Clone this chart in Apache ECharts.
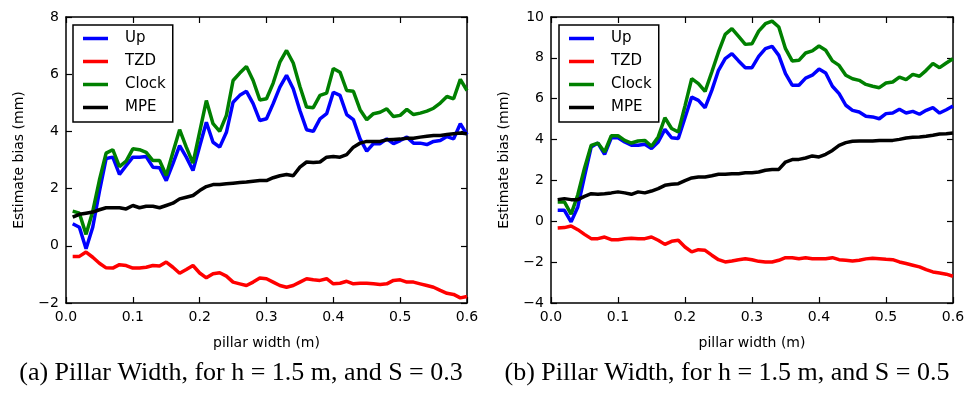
<!DOCTYPE html>
<html>
<head>
<meta charset="utf-8">
<script src="https://cdn.jsdelivr.net/npm/echarts@6/dist/echarts.min.js"></script>
<style>
  html, body { margin: 0; padding: 0; background: #fff; }
  #chart { width: 970px; height: 400px; }
</style>
</head>
<body>
<div id="chart"></div>
<script>
// ---- data ----
const widths = [0.01,0.02,0.03,0.04,0.05,0.06,0.07,0.08,0.09,0.10,
  0.11,0.12,0.13,0.14,0.15,0.16,0.17,0.18,0.19,0.20,
  0.21,0.22,0.23,0.24,0.25,0.26,0.27,0.28,0.29,0.30,
  0.31,0.32,0.33,0.34,0.35,0.36,0.37,0.38,0.39,0.40,
  0.41,0.42,0.43,0.44,0.45,0.46,0.47,0.48,0.49,0.50,
  0.51,0.52,0.53,0.54,0.55,0.56,0.57,0.58,0.59,0.60];

const seriesNames = ['Up', 'TZD', 'Clock', 'MPE'];

// Panel (a): S = 0.3
const upA = [0.77,0.65,-0.1,0.65,1.9,3.05,3.1,2.5,2.8,3.1,3.1,3.12,2.75,2.73,2.28,2.87,3.5,3.1,2.63,3.48,
  4.32,3.62,3.45,3.97,5.02,5.26,5.4,4.97,4.38,4.44,4.97,5.55,5.96,5.49,4.73,4.06,4.0,4.44,4.62,5.37,
  5.26,4.59,4.41,3.74,3.31,3.57,3.57,3.74,3.57,3.68,3.8,3.59,3.59,3.54,3.65,3.68,3.82,3.74,4.27,3.89];
const tzdA = [-0.37,-0.37,-0.22,-0.4,-0.61,-0.77,-0.78,-0.66,-0.69,-0.78,-0.78,-0.75,-0.69,-0.71,-0.57,-0.75,-0.96,-0.83,-0.69,-0.95,
  -1.12,-0.98,-0.94,-1.06,-1.27,-1.33,-1.39,-1.27,-1.13,-1.15,-1.27,-1.39,-1.45,-1.39,-1.27,-1.15,-1.19,-1.21,-1.15,-1.33,
  -1.31,-1.24,-1.33,-1.31,-1.31,-1.33,-1.35,-1.33,-1.21,-1.19,-1.27,-1.27,-1.33,-1.39,-1.45,-1.56,-1.66,-1.7,-1.82,-1.77];
const clockA = [1.21,1.14,0.4,1.2,2.3,3.24,3.36,2.77,2.96,3.39,3.36,3.27,2.98,2.98,2.46,3.27,4.06,3.45,2.89,3.98,
  5.08,4.27,4.0,4.56,5.78,6.04,6.27,5.78,5.1,5.14,5.69,6.42,6.83,6.39,5.57,4.85,4.83,5.26,5.34,6.2,
  6.07,5.43,5.4,4.76,4.41,4.62,4.67,4.79,4.52,4.56,4.77,4.59,4.64,4.71,4.81,4.99,5.22,5.14,5.82,5.43];
const mpeA = [1.0,1.1,1.14,1.18,1.26,1.33,1.33,1.33,1.29,1.41,1.33,1.38,1.38,1.33,1.41,1.49,1.64,1.7,1.76,1.93,
  2.07,2.14,2.14,2.17,2.19,2.21,2.23,2.26,2.28,2.28,2.38,2.45,2.49,2.45,2.75,2.93,2.91,2.93,3.1,3.12,
  3.1,3.19,3.45,3.59,3.65,3.65,3.65,3.71,3.72,3.73,3.76,3.76,3.8,3.83,3.86,3.86,3.89,3.92,3.94,3.92];

// Panel (b): S = 0.5
const upB = [0.54,0.54,-0.03,0.7,2.2,3.64,3.83,3.28,4.09,4.09,3.88,3.72,3.72,3.77,3.56,3.88,4.5,4.09,4.05,5.07,
  6.08,5.92,5.56,6.41,7.39,7.96,8.21,7.85,7.52,7.52,8.07,8.45,8.56,8.12,7.23,6.66,6.66,7.01,7.15,7.45,
  7.26,6.61,6.25,5.68,5.43,5.35,5.14,5.11,5.02,5.27,5.3,5.48,5.3,5.38,5.24,5.43,5.56,5.3,5.46,5.64];
const tzdB = [-0.33,-0.31,-0.23,-0.41,-0.64,-0.85,-0.85,-0.77,-0.9,-0.9,-0.86,-0.83,-0.86,-0.85,-0.77,-0.93,-1.13,-0.98,-0.93,-1.26,
  -1.5,-1.39,-1.42,-1.66,-1.88,-1.99,-1.94,-1.88,-1.83,-1.88,-1.96,-1.99,-1.99,-1.91,-1.78,-1.78,-1.83,-1.79,-1.83,-1.83,
  -1.83,-1.78,-1.88,-1.91,-1.94,-1.91,-1.84,-1.81,-1.83,-1.86,-1.88,-1.99,-2.07,-2.15,-2.23,-2.37,-2.48,-2.53,-2.59,-2.69];
const clockB = [0.95,0.95,0.35,1.3,2.6,3.72,3.83,3.39,4.19,4.19,3.96,3.83,3.93,3.96,3.67,4.13,5.07,4.54,4.37,5.65,
  6.98,6.74,6.36,7.31,8.29,9.15,9.43,9.05,8.66,8.69,9.31,9.67,9.8,9.51,8.45,7.85,7.88,8.24,8.34,8.58,
  8.37,7.85,7.63,7.15,6.98,6.9,6.7,6.61,6.54,6.77,6.82,7.06,6.93,7.19,7.1,7.39,7.72,7.52,7.75,7.96];
const mpeB = [1.06,1.11,1.06,1.06,1.22,1.35,1.32,1.35,1.39,1.44,1.39,1.32,1.44,1.39,1.48,1.6,1.76,1.81,1.84,1.99,
  2.12,2.17,2.17,2.23,2.3,2.3,2.33,2.33,2.38,2.38,2.41,2.5,2.53,2.54,2.9,3.02,3.03,3.1,3.2,3.15,
  3.28,3.47,3.72,3.85,3.92,3.93,3.93,3.93,3.96,3.96,3.96,4.01,4.08,4.11,4.13,4.16,4.21,4.27,4.29,4.32];

const xLabel = 'pillar width (m)';
const yLabel = 'Estimate bias (mm)';
const captions = ['(a) Pillar Width, for h = 1.5 m, and S = 0.3', '(b) Pillar Width, for h = 1.5 m, and S = 0.5'];

// ---- chart ----
const colors = { Up: '#0000ff', TZD: '#ff0000', Clock: '#008000', MPE: '#000000' };
const FONT = 'DejaVu Sans';
const minus = v => String(v).replace('-', '\u2212');

const grids = [
  { left: 66, top: 17, width: 401, height: 286 },
  { left: 551, top: 17, width: 402, height: 286 }
];
const yRanges = [[-2, 8], [-4, 10]];

function xAx(gi, top) {
  return {
    type: 'value', gridIndex: gi, position: top ? 'top' : 'bottom',
    min: 0, max: 0.6, interval: 0.1,
    name: top ? '' : xLabel, nameLocation: 'middle', nameGap: 33,
    nameTextStyle: { fontFamily: FONT, fontSize: 14, color: '#000' },
    axisLine: { show: true, onZero: false, lineStyle: { color: '#000', width: 1.5 } },
    axisTick: { show: true, inside: true, length: 6, lineStyle: { color: '#000', width: 1.2 } },
    axisLabel: { show: !top, margin: 7, fontFamily: FONT, fontSize: 14, color: '#000',
      formatter: v => v.toFixed(1) },
    splitLine: { show: false }
  };
}
function yAx(gi, right) {
  return {
    type: 'value', gridIndex: gi, position: right ? 'right' : 'left',
    min: yRanges[gi][0], max: yRanges[gi][1], interval: 2,
    name: right ? '' : yLabel, nameLocation: 'middle', nameGap: 40,
    nameTextStyle: { fontFamily: FONT, fontSize: 14, color: '#000' },
    axisLine: { show: true, onZero: false, lineStyle: { color: '#000', width: 1.5 } },
    axisTick: { show: true, inside: true, length: 6, lineStyle: { color: '#000', width: 1.2 } },
    axisLabel: { show: !right, margin: 7, fontFamily: FONT, fontSize: 14, color: '#000',
      formatter: v => minus(v) },
    splitLine: { show: false }
  };
}

function mkSeries(name, vals, gi) {
  return {
    name, type: 'line', xAxisIndex: gi * 2, yAxisIndex: gi * 2,
    data: widths.map((w, i) => [w, vals[i]]),
    showSymbol: false, symbol: 'none', animation: false,
    color: colors[name],
    lineStyle: { color: colors[name], width: 3.5 }
  };
}

function mkLegend(left) {
  return {
    data: seriesNames, orient: 'vertical', left: left, top: 25,
    icon: 'rect', itemWidth: 25, itemHeight: 3.5, itemGap: 6,
    padding: [5, 7, 6, 10],
    borderColor: '#000', borderWidth: 1.5, backgroundColor: '#fff',
    selectedMode: false,
    formatter: n => '{g|}' + n,
    textStyle: { fontFamily: FONT, fontSize: 15, color: '#000', lineHeight: 17,
      rich: { g: { width: 12 } } }
  };
}

const option = {
  animation: false,
  backgroundColor: '#fff',
  grid: grids,
  xAxis: [xAx(0, false), xAx(0, true), xAx(1, false), xAx(1, true)],
  yAxis: [yAx(0, false), yAx(0, true), yAx(1, false), yAx(1, true)],
  legend: [mkLegend(73), mkLegend(559)],
  series: [
    mkSeries('Up', upA, 0), mkSeries('TZD', tzdA, 0), mkSeries('Clock', clockA, 0), mkSeries('MPE', mpeA, 0),
    mkSeries('Up', upB, 1), mkSeries('TZD', tzdB, 1), mkSeries('Clock', clockB, 1), mkSeries('MPE', mpeB, 1)
  ],
  graphic: [
    { type: 'text', x: 241, y: 373, style: { text: captions[0], font: '26px "Liberation Serif"', fill: '#000', align: 'center', verticalAlign: 'middle' } },
    { type: 'text', x: 727, y: 373, style: { text: captions[1], font: '26px "Liberation Serif"', fill: '#000', align: 'center', verticalAlign: 'middle' } }
  ]
};

const chart = echarts.init(document.getElementById('chart'), null, { renderer: 'canvas' });
chart.setOption(option);
</script>
</body>
</html>
